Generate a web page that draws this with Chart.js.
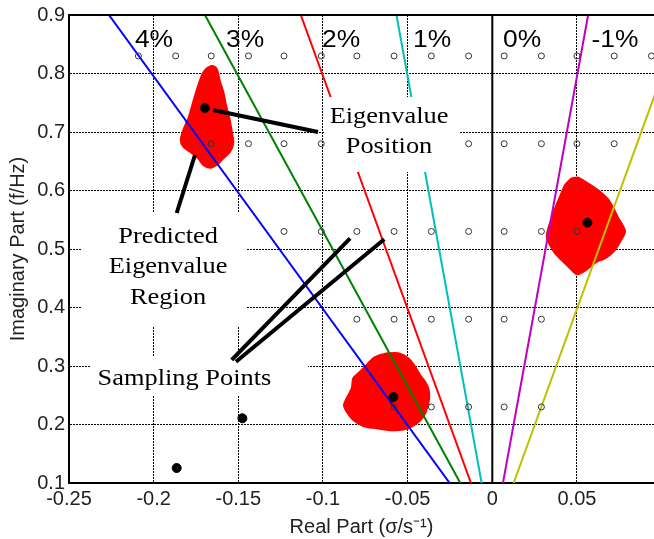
<!DOCTYPE html>
<html>
<head>
<meta charset="utf-8">
<script src="https://cdn.jsdelivr.net/npm/chart.js@4.4.0/dist/chart.umd.min.js"></script>
<style>
  html, body { margin: 0; padding: 0; background: #fff; }
</style>
</head>
<body>
<canvas id="eigen-chart" width="654" height="539"></canvas>
<script>
/**
 * Eigenvalue estimates on the complex plane with damping ratio lines
 */

// tick labels
const xTicks = [-0.25, -0.2, -0.15, -0.1, -0.05, 0, 0.05];
const yTicks = [0.1, 0.2, 0.3, 0.4, 0.5, 0.6, 0.7, 0.8, 0.9];

// damping lines: real part at f = 0.1 Hz and at f = 0.9 Hz
const lineFreq = [0.1, 0.9];
const damp4 = [-0.0252, -0.2264];
const damp3 = [-0.0189, -0.1697];
const damp2 = [-0.0126, -0.1131];
const damp1 = [-0.0063, -0.0566];
const damp0 = [0, 0];
const dampM1 = [0.0063, 0.0566];
const dampM2 = [0.0126, 0.1131];
const pctLabels = ['4%', '3%', '2%', '1%', '0%', '-1%'];

// sampling points, one list of real parts per frequency row
const sampleFreq = [0.83, 0.68, 0.53, 0.38, 0.23];
const sampleSigma = [
    [-0.209, -0.187, -0.166, -0.144, -0.123, -0.101, -0.080, -0.058, -0.036, -0.014, 0.007, 0.029, 0.050, 0.072, 0.094],
    [-0.166, -0.144, -0.123, -0.101, -0.080, -0.058, -0.036, -0.014, 0.007, 0.029, 0.050, 0.072],
    [-0.123, -0.101, -0.080, -0.058, -0.036, -0.014, 0.007, 0.029, 0.050],
    [-0.080, -0.058, -0.036, -0.014, 0.007, 0.029],
    [-0.058, -0.036, -0.014, 0.007, 0.029]
];

// eigenvalue positions
const eigSigma = [-0.1697, 0.0562, -0.0584, -0.1864, -0.1476];
const eigFreq = [0.741, 0.545, 0.247, 0.1256, 0.2106];

// predicted eigenvalue regions (outlines)
const regionASigma = [-0.1687, -0.1657, -0.1628, -0.1608, -0.1589, -0.1573, -0.1553, -0.1539, -0.1530, -0.1549, -0.1589, -0.1628, -0.1667, -0.1707, -0.1736, -0.1785, -0.1825, -0.1840, -0.1825, -0.1795, -0.1766, -0.1736, -0.1710, -0.1687];
const regionAFreq = [0.8089, 0.8128, 0.8077, 0.786, 0.7689, 0.7462, 0.7234, 0.7005, 0.6807, 0.6663, 0.655, 0.6436, 0.639, 0.6436, 0.655, 0.6663, 0.6749, 0.6863, 0.7034, 0.7234, 0.7518, 0.7803, 0.8003, 0.8089];
const regionBSigma = [-0.0663, -0.0614, -0.0555, -0.0496, -0.0456, -0.0427, -0.0397, -0.0378, -0.0372, -0.0383, -0.0407, -0.0446, -0.0496, -0.0555, -0.0614, -0.0682, -0.0762, -0.0821, -0.0860, -0.0876, -0.0860, -0.0830, -0.0821, -0.0781, -0.0742, -0.0703, -0.0663];
const regionBFreq = [0.3188, 0.3217, 0.3217, 0.3132, 0.2988, 0.2846, 0.2732, 0.2619, 0.2475, 0.2304, 0.2133, 0.202, 0.1935, 0.1906, 0.1906, 0.1935, 0.1974, 0.2077, 0.2219, 0.2333, 0.2448, 0.2619, 0.279, 0.2903, 0.3017, 0.3132, 0.3188];
const regionCSigma = [0.0469, 0.0508, 0.0548, 0.0597, 0.0647, 0.0686, 0.0715, 0.0745, 0.0774, 0.0784, 0.0755, 0.0715, 0.0666, 0.0617, 0.0578, 0.0538, 0.0499, 0.0459, 0.0420, 0.0371, 0.0341, 0.0322, 0.0331, 0.0351, 0.0371, 0.0400, 0.0430, 0.0469];
const regionCFreq = [0.6209, 0.6219, 0.6151, 0.6065, 0.5952, 0.5838, 0.5696, 0.5525, 0.5381, 0.5296, 0.5125, 0.4954, 0.4841, 0.4783, 0.4697, 0.4612, 0.4568, 0.467, 0.4783, 0.4926, 0.5068, 0.521, 0.5354, 0.5525, 0.5696, 0.5894, 0.6094, 0.6209];

function pts(xs, ys) {
    return xs.map((v, i) => ({ x: v, y: ys[i] }));
}

function fmt(v) {
    return String(Math.round(v * 100) / 100);
}

// annotation texts (positions in data units)
const pctPos = { x: [-0.1998, -0.146, -0.0893, -0.0356, 0.0176, 0.0725], y: 0.8453 };
const notes = [
    { lines: ['Eigenvalue', 'Position'], x: -0.061, y: 0.7154, box: [-0.0988, -0.0190, 0.7598, 0.6316] },
    { lines: ['Predicted', 'Eigenvalue', 'Region'], x: -0.1915, y: 0.5103, box: [-0.2423, -0.1449, 0.5615, 0.3667] },
    { lines: ['Sampling Points'], x: -0.1818, y: 0.2675, box: [-0.2376, -0.1088, 0.3154, 0.2487] }
];
const arrows = [
    [[-0.165, 0.7376], [-0.1029, 0.7]],
    [[-0.1864, 0.5615], [-0.1756, 0.6607]],
    [[-0.1539, 0.3103], [-0.084, 0.5183]],
    [[-0.1514, 0.3073], [-0.0638, 0.5166]]
];

function wideText(ctx, txt, px, py, sx) {
    ctx.save();
    ctx.translate(px, py);
    ctx.scale(sx, 1);
    ctx.fillText(txt, 0, 0);
    ctx.restore();
}

const notesPlugin = {
    id: 'notes',
    afterDatasetsDraw(chart) {
        const { ctx, chartArea } = chart;
        const xs = chart.scales.x, ys = chart.scales.y;
        ctx.save();

        // top frame line
        ctx.strokeStyle = '#000';
        ctx.lineWidth = 2;
        ctx.beginPath();
        ctx.moveTo(chartArea.left - 1, chartArea.top);
        ctx.lineTo(chartArea.right, chartArea.top);
        ctx.stroke();

        // damping labels
        ctx.fillStyle = '#000';
        ctx.textAlign = 'center';
        ctx.textBaseline = 'alphabetic';
        ctx.font = '24px "Liberation Sans", Arial, sans-serif';
        pctLabels.forEach((t, i) => {
            wideText(ctx, t, xs.getPixelForValue(pctPos.x[i]), ys.getPixelForValue(pctPos.y), 1.1);
        });

        // text boxes
        notes.forEach(n => {
            const x1 = xs.getPixelForValue(n.box[0]), x2 = xs.getPixelForValue(n.box[1]);
            const y1 = ys.getPixelForValue(n.box[2]), y2 = ys.getPixelForValue(n.box[3]);
            ctx.fillStyle = '#fff';
            ctx.fillRect(x1, y1, x2 - x1, y2 - y1);
        });
        ctx.fillStyle = '#000';
        ctx.font = '24px "Liberation Serif", "Times New Roman", serif';
        notes.forEach(n => {
            const px = xs.getPixelForValue(n.x), py = ys.getPixelForValue(n.y);
            n.lines.forEach((l, i) => wideText(ctx, l, px, py + i * 30.5, 1.1));
        });

        // arrows
        ctx.strokeStyle = '#000';
        ctx.lineWidth = 4;
        arrows.forEach(a => {
            ctx.beginPath();
            ctx.moveTo(xs.getPixelForValue(a[0][0]), ys.getPixelForValue(a[0][1]));
            ctx.lineTo(xs.getPixelForValue(a[1][0]), ys.getPixelForValue(a[1][1]));
            ctx.stroke();
        });
        ctx.restore();
    }
};

const lineSet = (sig, color) => ({
    type: 'line',
    data: pts(sig, lineFreq),
    borderColor: color,
    borderWidth: 2,
    pointRadius: 0,
    fill: false,
    order: 2
});

const regionSet = (xs, ys) => ({
    type: 'line',
    data: pts(xs, ys),
    borderColor: '#FF0000',
    backgroundColor: '#FF0000',
    borderWidth: 2,
    pointRadius: 0,
    tension: 0.3,
    fill: 'shape',
    order: 3
});

const samplePoints = [];
sampleFreq.forEach((f, r) => sampleSigma[r].forEach(s => samplePoints.push({ x: s, y: f })));

const tickFont = { family: '"Liberation Sans", Arial, sans-serif', size: 20 };

const ctx = document.getElementById('eigen-chart').getContext('2d');

const eigenChart = new Chart(ctx, {
    type: 'scatter',
    data: {
        datasets: [
            {
                label: 'Eigenvalue',
                data: pts(eigSigma, eigFreq),
                backgroundColor: '#000',
                borderColor: '#000',
                pointRadius: 4.5,
                order: 0
            },
            {
                label: 'Sampling points',
                data: samplePoints,
                backgroundColor: 'rgba(0,0,0,0)',
                borderColor: '#333',
                borderWidth: 1,
                pointRadius: 3,
                order: 1
            },
            lineSet(damp4, '#0000FF'),
            lineSet(damp3, '#008000'),
            lineSet(damp2, '#FF0000'),
            lineSet(damp1, '#00BFBF'),
            lineSet(damp0, '#000000'),
            lineSet(dampM1, '#BF00BF'),
            lineSet(dampM2, '#BFBF00'),
            regionSet(regionASigma, regionAFreq),
            regionSet(regionBSigma, regionBFreq),
            regionSet(regionCSigma, regionCFreq)
        ]
    },
    options: {
        responsive: false,
        animation: false,
        layout: { autoPadding: false, padding: { top: 15, right: 0, left: 0, bottom: 0 } },
        plugins: {
            legend: { display: false },
            tooltip: { enabled: false }
        },
        scales: {
            x: {
                type: 'linear',
                min: -0.25,
                max: 0.0955,
                afterBuildTicks: s => { s.ticks = xTicks.map(v => ({ value: v })); },
                afterFit: s => { s.height = 56; s.paddingLeft = 0; s.paddingRight = 0; },
                ticks: { callback: v => fmt(v), font: tickFont, color: '#222', padding: 4, maxRotation: 0, autoSkip: false },
                grid: { color: '#000', lineWidth: 1, drawTicks: false },
                border: { display: true, color: '#000', width: 2, dash: [2, 1] },
                title: { display: true, text: 'Real Part (σ/s⁻¹)', font: tickFont, color: '#222', padding: 0 }
            },
            y: {
                type: 'linear',
                min: 0.1,
                max: 0.9,
                afterBuildTicks: s => { s.ticks = yTicks.map(v => ({ value: v })); },
                afterFit: s => { s.width = 69; s.paddingTop = 0; s.paddingBottom = 0; },
                ticks: { callback: v => fmt(v), font: tickFont, color: '#222', padding: 4, autoSkip: false },
                grid: { color: '#000', lineWidth: 1, drawTicks: false },
                border: { display: true, color: '#000', width: 2, dash: [2, 1] },
                title: { display: true, text: 'Imaginary Part (f/Hz)', font: tickFont, color: '#222', padding: { top: 6, bottom: 0 } }
            }
        }
    },
    plugins: [notesPlugin]
});
</script>
</body>
</html>
